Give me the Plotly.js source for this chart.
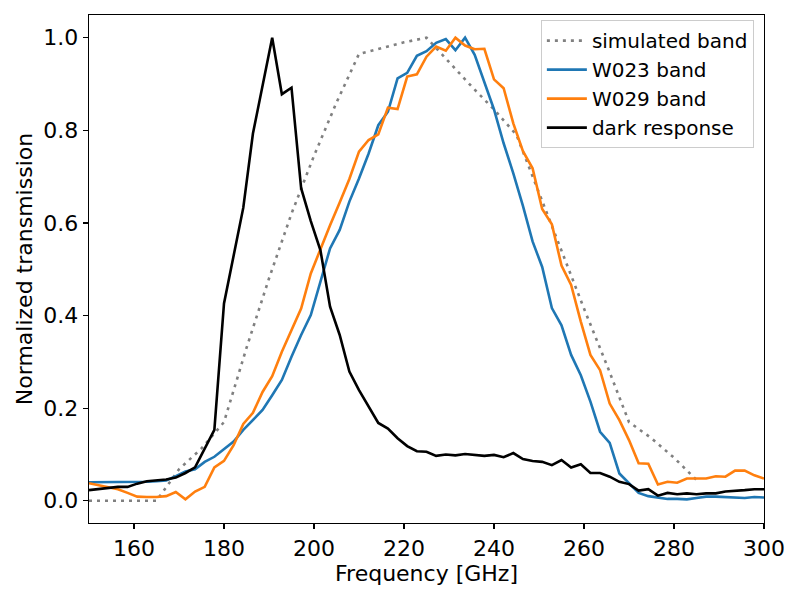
<!DOCTYPE html>
<html>
<head>
<meta charset="utf-8">
<script src="https://cdn.plot.ly/plotly-3.0.1.min.js"></script>
<style>
  html, body { margin: 0; padding: 0; background: #fff; }
  #bandPlot { width: 800px; height: 600px; }
</style>
</head>
<body>
<div id="bandPlot"></div>
<script>
// measured frequency grid [GHz]
const freq = [
  150.00, 152.14, 154.29, 156.43, 158.57, 160.71, 162.86, 165.00, 167.14, 169.29,
  171.43, 173.57, 175.71, 177.86, 180.00, 182.14, 184.29, 186.43, 188.57, 190.71,
  192.86, 195.00, 197.14, 199.29, 201.43, 203.57, 205.71, 207.86, 210.00, 212.14,
  214.29, 216.43, 218.57, 220.71, 222.86, 225.00, 227.14, 229.29, 231.43, 233.57,
  235.71, 237.86, 240.00, 242.14, 244.29, 246.43, 248.57, 250.71, 252.86, 255.00,
  257.14, 259.29, 261.43, 263.57, 265.71, 267.86, 270.00, 272.14, 274.29, 276.43,
  278.57, 280.71, 282.86, 285.00, 287.14, 289.29, 291.43, 293.57, 295.71, 297.86,
  300.00
];

const w023 = [
  0.040, 0.040, 0.041, 0.041, 0.040, 0.040, 0.041, 0.042, 0.044, 0.053,
  0.063, 0.068, 0.084, 0.095, 0.111, 0.128, 0.153, 0.174, 0.196, 0.228,
  0.261, 0.311, 0.358, 0.401, 0.475, 0.545, 0.585, 0.646, 0.696, 0.750,
  0.811, 0.840, 0.912, 0.924, 0.961, 0.971, 0.989, 0.997, 0.973, 1.000,
  0.963, 0.902, 0.845, 0.772, 0.707, 0.637, 0.560, 0.505, 0.416, 0.379,
  0.315, 0.271, 0.214, 0.149, 0.125, 0.059, 0.038, 0.017, 0.010, 0.007,
  0.004, 0.004, 0.003, 0.006, 0.009, 0.009, 0.008, 0.007, 0.006, 0.008,
  0.007
];

const w029 = [
  0.038, 0.034, 0.029, 0.025, 0.017, 0.009, 0.008, 0.008, 0.010, 0.019,
  0.003, 0.020, 0.030, 0.072, 0.086, 0.120, 0.166, 0.190, 0.235, 0.269,
  0.322, 0.368, 0.415, 0.491, 0.545, 0.595, 0.644, 0.695, 0.754, 0.779,
  0.791, 0.849, 0.846, 0.916, 0.921, 0.959, 0.981, 0.972, 1.000, 0.983,
  0.975, 0.976, 0.910, 0.891, 0.815, 0.755, 0.718, 0.630, 0.597, 0.508,
  0.466, 0.387, 0.315, 0.282, 0.210, 0.174, 0.131, 0.081, 0.080, 0.035,
  0.041, 0.039, 0.048, 0.048, 0.048, 0.053, 0.052, 0.065, 0.065, 0.055,
  0.048
];

const dark = [
  0.023, 0.025, 0.028, 0.030, 0.030, 0.037, 0.042, 0.044, 0.046, 0.050,
  0.060, 0.072, 0.112, 0.153, 0.426, 0.530, 0.633, 0.793, 0.895, 1.000,
  0.878, 0.892, 0.675, 0.604, 0.541, 0.419, 0.358, 0.279, 0.239, 0.204,
  0.168, 0.156, 0.135, 0.118, 0.107, 0.106, 0.097, 0.100, 0.098, 0.101,
  0.099, 0.097, 0.099, 0.094, 0.103, 0.090, 0.086, 0.084, 0.077, 0.088,
  0.072, 0.079, 0.060, 0.060, 0.052, 0.041, 0.036, 0.022, 0.025, 0.011,
  0.017, 0.014, 0.016, 0.014, 0.016, 0.016, 0.020, 0.021, 0.023, 0.025,
  0.025
];

// simulated band, coarse 5 GHz grid
const simFreq = [
  150, 155, 160, 165, 170, 175, 180, 185, 190, 195, 200, 205, 210, 215,
  220, 225, 230, 235, 240, 245, 250, 255, 260, 265, 270, 275, 280, 285
];
const simBand = [
  0.000, 0.000, 0.000, 0.000, 0.068, 0.113, 0.170, 0.330, 0.480, 0.620,
  0.745, 0.860, 0.965, 0.978, 0.990, 1.000, 0.947, 0.895, 0.845, 0.790,
  0.665, 0.540, 0.415, 0.295, 0.170, 0.135, 0.093, 0.045
];

const xTicks = [160, 180, 200, 220, 240, 260, 280, 300];
const yTicks = [0.0, 0.2, 0.4, 0.6, 0.8, 1.0];

const plotDiv = document.getElementById("bandPlot");

let traces = [
  {
    x: simFreq, y: simBand, name: "simulated band",
    mode: "lines", type: "scatter",
    line: { color: "#808080", width: 2.6, dash: "3px,5px" },
  },
  {
    x: freq, y: w023, name: "W023 band",
    mode: "lines", type: "scatter",
    line: { color: "#1f77b4", width: 2.6 },
  },
  {
    x: freq, y: w029, name: "W029 band",
    mode: "lines", type: "scatter",
    line: { color: "#ff7f0e", width: 2.6 },
  },
  {
    x: freq, y: dark, name: "dark response",
    mode: "lines", type: "scatter",
    line: { color: "#000000", width: 2.6 },
  },
];

const axisCommon = {
  showline: true,
  linecolor: "#000",
  linewidth: 1.3,
  mirror: true,
  ticks: "outside",
  ticklen: 5,
  tickwidth: 1.2,
  tickcolor: "#000",
  showgrid: false,
  zeroline: false,
  tickfont: { family: "DejaVu Sans", size: 22, color: "#000" },
};

var layout = {
  width: 800,
  height: 600,
  margin: { l: 89, r: 36, t: 15, b: 77 },
  paper_bgcolor: "#fff",
  plot_bgcolor: "#fff",
  font: { family: "DejaVu Sans", color: "#000" },
  xaxis: Object.assign({}, axisCommon, {
    range: [150, 300],
    tickvals: xTicks,
    title: { text: "Frequency [GHz]", font: { family: "DejaVu Sans", size: 22 }, standoff: 4 },
  }),
  yaxis: Object.assign({}, axisCommon, {
    range: [-0.048, 1.049],
    tickvals: yTicks,
    tickformat: ".1f",
    title: { text: "Normalized transmission", font: { family: "DejaVu Sans", size: 22 }, standoff: 4 },
  }),
  legend: {
    x: 0.985, y: 0.99, xanchor: "right", yanchor: "top",
    itemwidth: 40,
    tracegroupgap: 0,
    bgcolor: "rgba(255,255,255,0.8)",
    bordercolor: "#cccccc",
    borderwidth: 1,
    font: { family: "DejaVu Sans", size: 20, color: "#000" },
  },
  showlegend: true,
};

Plotly.newPlot(plotDiv, traces, layout, { displayModeBar: false, staticPlot: true });
</script>
</body>
</html>
